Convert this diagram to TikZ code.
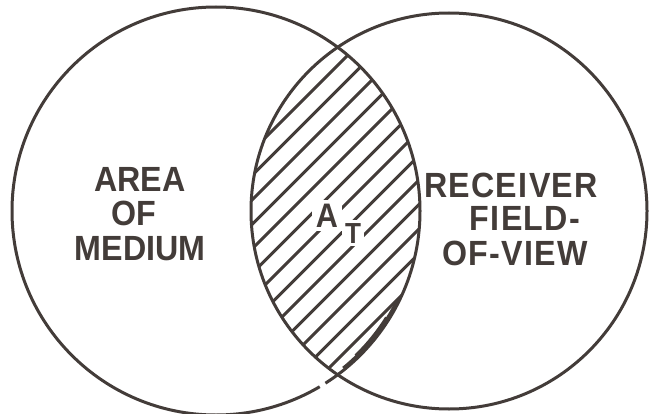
\documentclass[tikz,border=0pt]{standalone}
\usepackage{fontspec}
\setmainfont{Liberation Sans}
\definecolor{ink}{HTML}{433C39}
\begin{document}
\begin{tikzpicture}[x=1pt,y=-1pt,
  rim/.style={draw=ink,line width=3pt},
  hatch/.style={draw=ink,line width=3pt},
  lbl/.style={text=ink,inner sep=0pt,anchor=base,xscale=0.92,font=\fontsize{35}{36}\selectfont\bfseries},
  rlbl/.style={lbl,font=\fontsize{35}{36}\selectfont\bfseries\addfontfeatures{LetterSpace=4}},
  gap/.style={fill=white,inner sep=4pt,text=ink,anchor=base,xscale=0.9}]
\useasboundingbox (0,0) rectangle (650,414);
\coordinate (cl) at (216,211);
\coordinate (cr) at (449,211);
% hatching in the lens
\begin{scope}
  \clip (cl) circle[radius=204pt];
  \clip (cr) circle[radius=198pt];
  \foreach \k in {0,...,12}{
    \pgfmathsetmacro\c{403+24.5*\k}
    \draw[hatch] (\c-400,400) -- (\c,0);
  }
\end{scope}
% label A_T with gaps in the hatching
\node[gap,font=\fontsize{34}{36}\selectfont\bfseries] (A) at (327,227) {A};
\node[gap,inner sep=3pt,font=\fontsize{29}{30}\selectfont\bfseries] (T) at (353,243) {T};
% circles
\draw[rim] (cl) circle[radius=204pt];
\draw[rim] (cr) circle[radius=198pt];
% ink blot along the lens edge and small break in the left circle
\draw[ink,line width=3.8pt] (cl) ++(26:202.5) arc[start angle=26,end angle=51,radius=202.5];
\draw[ink,line width=5pt] (cl) ++(32:202) arc[start angle=32,end angle=46,radius=202];
\draw[white,line width=4.5pt] (cl) ++(57.6:204) arc[start angle=57.6,end angle=59.4,radius=204];
% left text
\node[lbl] (l1) at (140,192) {AREA};
\node[lbl] (l2) at (134,225) {OF};
\node[lbl] (l3) at (140,260) {MEDIUM};
% right text
\node[rlbl] (r1) at (511,197) {RECEIVER};
\node[rlbl] (r2) at (525,230) {FIELD-};
\node[rlbl] (r3) at (515,265) {OF-VIEW};
\end{tikzpicture}
\end{document}
